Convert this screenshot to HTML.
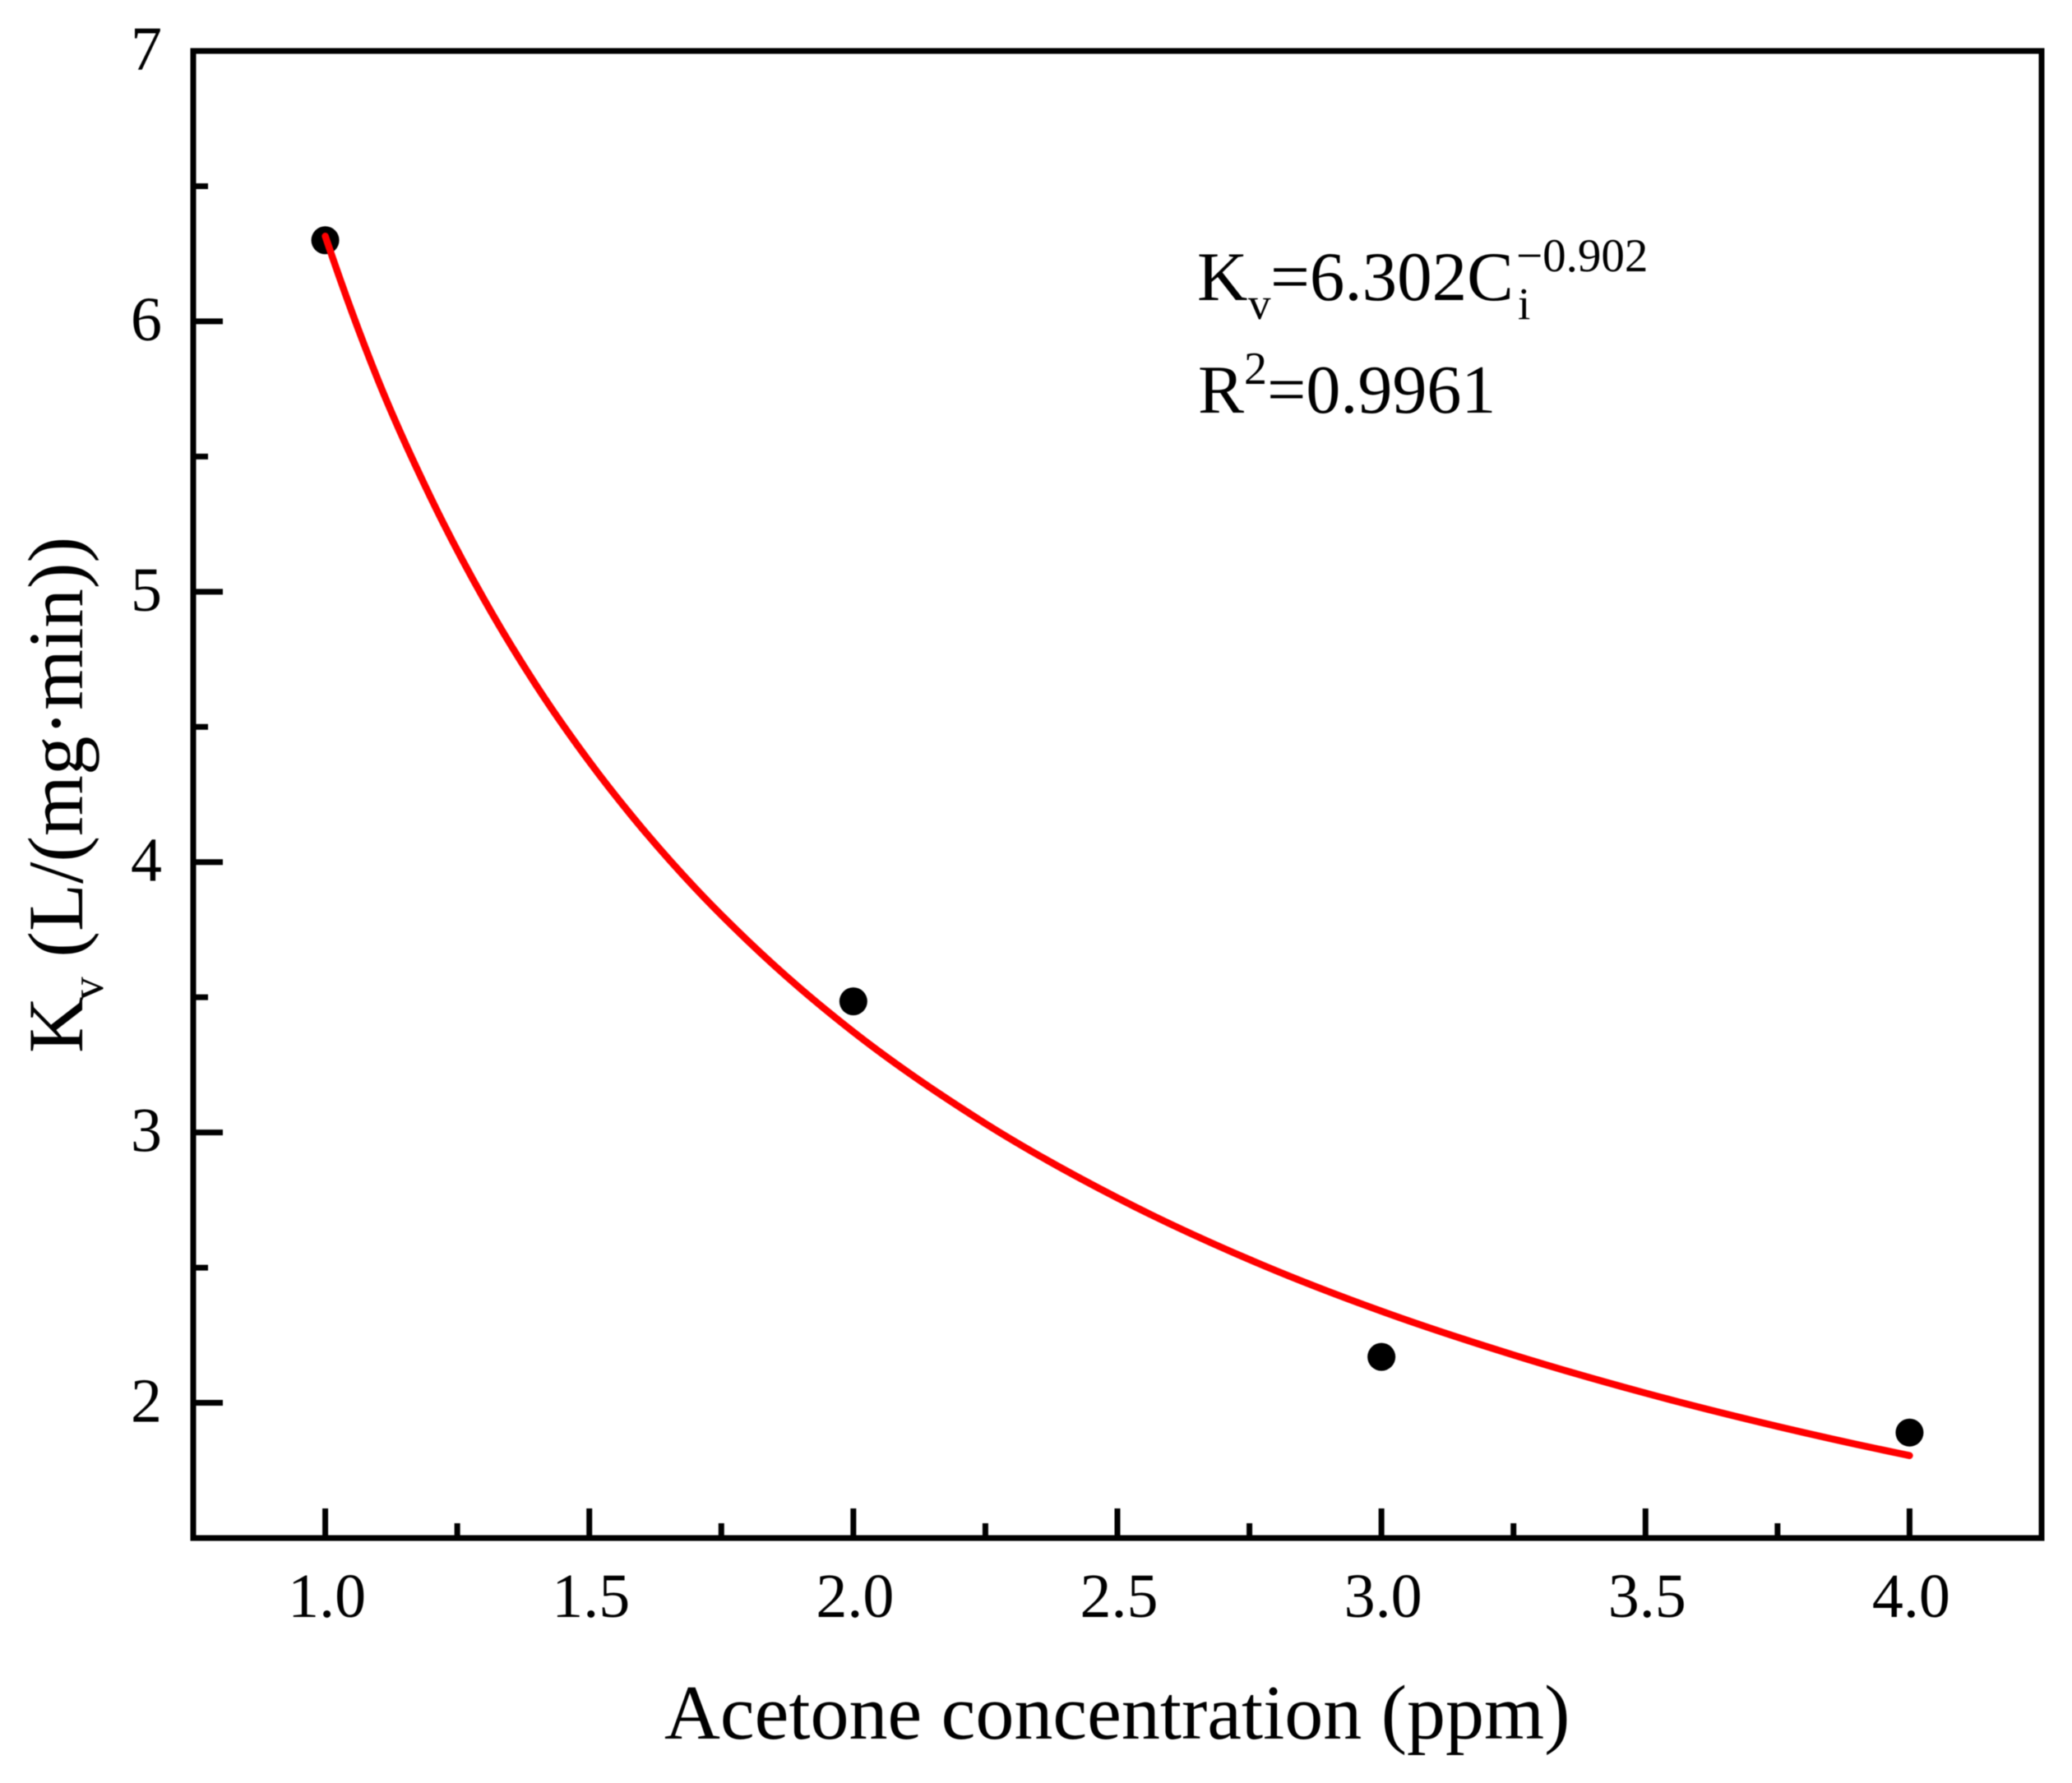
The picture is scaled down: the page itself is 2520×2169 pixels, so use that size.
<!DOCTYPE html>
<html lang="en">
<head>
<meta charset="utf-8">
<title>Kv vs acetone concentration</title>
<style>
  html, body { margin: 0; padding: 0; background: #fff; }
  body { width: 2520px; height: 2169px; overflow: hidden; }
  svg { display: block; filter: blur(0.6px); }
  text { font-family: "Liberation Serif", "Times New Roman", serif; fill: #000; }
</style>
</head>
<body>
<svg id="chart" xmlns="http://www.w3.org/2000/svg" width="2520" height="2169" viewBox="0 0 2520 2169">
  <rect x="0" y="0" width="2520" height="2169" fill="#fff"/>
  <g id="ticks"></g>
  <g id="tick-labels"></g>
  <g id="points"></g>
  <path id="fit" fill="none" stroke="#ff0000" stroke-width="8.5" stroke-linecap="round" stroke-linejoin="round"/>
  <rect x="235" y="62" width="2248" height="1809" fill="none" stroke="#000" stroke-width="7"/>

  <text x="808" y="2115" font-size="94">Acetone concentration (ppm)</text>

  <text transform="translate(100 1281) rotate(-90)" font-size="95">K<tspan font-size="56" dx="-4" dy="25">v</tspan><tspan dy="-25"> (L/(mg·min))</tspan></text>

  <text font-size="85"><tspan x="1456" y="365">K</tspan><tspan x="1518" y="388" font-size="55">v</tspan><tspan x="1545" y="365">=6.302C</tspan><tspan x="1846" y="388" font-size="55">i</tspan><tspan x="1844" y="330" font-size="57">−0.902</tspan></text>

  <text font-size="84"><tspan x="1457" y="502">R</tspan><tspan x="1513" y="467" font-size="56">2</tspan><tspan x="1541" y="502">=0.9961</tspan></text>
</svg>

<script>
// Chart data
const pointConcentration = [1, 2, 3, 4];
const pointKv = [6.30, 3.485, 2.17, 1.89];

const fitConcentration = [1, 1.1, 1.2, 1.3, 1.4, 1.5, 1.6, 1.7, 1.8, 1.9, 2, 2.25, 2.5, 2.75, 3, 3.25, 3.5, 3.75, 4];
const fitKv = [6.315, 5.783, 5.347, 4.974, 4.652, 4.372, 4.125, 3.905, 3.709, 3.532, 3.372, 3.033, 2.758, 2.530, 2.339, 2.177, 2.036, 1.913, 1.805];

const xMajorTicks = [1, 1.5, 2, 2.5, 3, 3.5, 4];
const xMinorTicks = [1.25, 1.75, 2.25, 2.75, 3.25, 3.75];
const xTickLabels = ["1.0", "1.5", "2.0", "2.5", "3.0", "3.5", "4.0"];

const yMajorTicks = [2, 3, 4, 5, 6, 7];
const yMinorTicks = [2.5, 3.5, 4.5, 5.5, 6.5];
const yTickLabels = ["2", "3", "4", "5", "6", "7"];

// Axis functions
const xDomain = [0.75, 4.25];
const yDomain = [1.5, 7];
const plot = { left: 235, right: 2483, top: 62, bottom: 1871 };
function xScale(v) {
  return plot.left + (v - xDomain[0]) / (xDomain[1] - xDomain[0]) * (plot.right - plot.left);
}
function yScale(v) {
  return plot.bottom - (v - yDomain[0]) / (yDomain[1] - yDomain[0]) * (plot.bottom - plot.top);
}

const NS = "http://www.w3.org/2000/svg";
const tickGroup = document.getElementById("ticks");
const labelGroup = document.getElementById("tick-labels");
const pointGroup = document.getElementById("points");

function tickLine(x1, y1, x2, y2) {
  const el = document.createElementNS(NS, "line");
  el.setAttribute("x1", x1);
  el.setAttribute("y1", y1);
  el.setAttribute("x2", x2);
  el.setAttribute("y2", y2);
  el.setAttribute("stroke", "#000");
  el.setAttribute("stroke-width", "7");
  return el;
}

xMajorTicks.forEach(function (v, i) {
  const el = tickLine(xScale(v), plot.bottom, xScale(v), plot.bottom - 36);
  
  
  tickGroup.appendChild(el);

  const t = document.createElementNS(NS, "text");
  t.setAttribute("x", xScale(v) + 2);
  t.setAttribute("y", 1967);
  t.setAttribute("font-size", "76");
  t.setAttribute("text-anchor", "middle");
  t.textContent = xTickLabels[i];
  
  
  labelGroup.appendChild(t);
});

xMinorTicks.forEach(function (v) {
  const el = tickLine(xScale(v), plot.bottom, xScale(v), plot.bottom - 18);
  
  
  tickGroup.appendChild(el);
});

yMajorTicks.forEach(function (v, i) {
  const el = tickLine(plot.left, yScale(v), plot.left + 36, yScale(v));
  
  
  tickGroup.appendChild(el);

  const t = document.createElementNS(NS, "text");
  t.setAttribute("x", 197);
  t.setAttribute("y", yScale(v) + 23);
  t.setAttribute("font-size", "76");
  t.setAttribute("text-anchor", "end");
  t.textContent = yTickLabels[i];
  
  
  labelGroup.appendChild(t);
});

yMinorTicks.forEach(function (v) {
  const el = tickLine(plot.left, yScale(v), plot.left + 18, yScale(v));
  
  
  tickGroup.appendChild(el);
});

pointConcentration.forEach(function (v, i) {
  const c = document.createElementNS(NS, "circle");
  c.setAttribute("cx", xScale(v));
  c.setAttribute("cy", yScale(pointKv[i]));
  c.setAttribute("r", "17");
  c.setAttribute("fill", "#000");
  
  
  pointGroup.appendChild(c);
});

// Smooth curve through the fit samples (cubic Hermite with three-point slopes)
const fx = fitConcentration.map(xScale);
const fy = fitKv.map(yScale);
const n = fx.length;
function secant(i) {
  return (fy[i + 1] - fy[i]) / (fx[i + 1] - fx[i]);
}
function slope(i) {
  if (i === 0) {
    const h0 = fx[1] - fx[0], h1 = fx[2] - fx[1];
    return ((2 * h0 + h1) * secant(0) - h0 * secant(1)) / (h0 + h1);
  }
  if (i === n - 1) {
    const h0 = fx[n - 2] - fx[n - 3], h1 = fx[n - 1] - fx[n - 2];
    return ((2 * h1 + h0) * secant(n - 2) - h1 * secant(n - 3)) / (h0 + h1);
  }
  const a = fx[i] - fx[i - 1], b = fx[i + 1] - fx[i];
  return (b * secant(i - 1) + a * secant(i)) / (a + b);
}
let d = "M" + fx[0].toFixed(1) + " " + fy[0].toFixed(1);
for (let i = 0; i < n - 1; i++) {
  const h = (fx[i + 1] - fx[i]) / 3;
  d += " C" + (fx[i] + h).toFixed(1) + " " + (fy[i] + slope(i) * h).toFixed(1) +
       " " + (fx[i + 1] - h).toFixed(1) + " " + (fy[i + 1] - slope(i + 1) * h).toFixed(1) +
       " " + fx[i + 1].toFixed(1) + " " + fy[i + 1].toFixed(1);
}
document.getElementById("fit").setAttribute("d", d);
</script>
</body>
</html>
